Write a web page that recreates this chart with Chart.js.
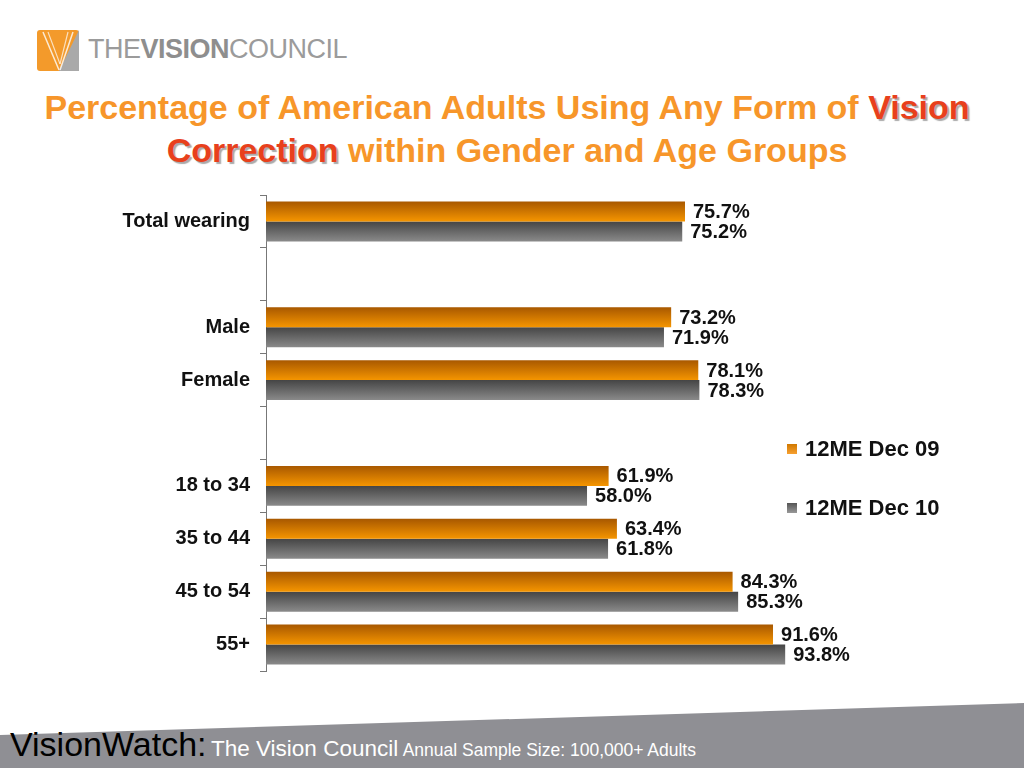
<!DOCTYPE html>
<html>
<head>
<meta charset="utf-8">
<script src="https://cdn.jsdelivr.net/npm/chart.js@4.4.0/dist/chart.umd.min.js"></script>
<style>
  body { margin: 0; width: 1024px; height: 768px; overflow: hidden; background: #fff; font-family: "Liberation Sans", Arial, sans-serif; position: relative; }
  #logo { position: absolute; left: 37px; top: 30px; width: 310px; height: 44px; }
  #logoText { position: absolute; left: 51px; top: 4px; font-size: 27px; color: #9b9b9b; letter-spacing: -0.5px; white-space: nowrap; }
  #logoText b { font-weight: bold; color: #8e8e8e; }
  #title { position: absolute; left: 0; top: 86px; width: 1014px; text-align: center; font-size: 34px; font-weight: bold; line-height: 43px; color: #f7962a; }
  #title span { color: #e8401c; text-shadow: 2px 2px 1px #aaa; }
  #wrap { position: absolute; left: 0; top: 170px; width: 1024px; height: 526px; }
  .leg { position: absolute; left: 787px; font-size: 22px; font-weight: bold; color: #111; white-space: nowrap; }
  .leg i { display: inline-block; width: 10px; height: 10px; margin-right: 8px; vertical-align: 2px; }
  #footer { position: absolute; left: 0; top: 700px; width: 1024px; height: 68px; }
  #footText { position: absolute; left: 10px; top: 725px; white-space: nowrap; color: #fff; }
</style>
</head>
<body>

<div id="logo">
  <svg width="44" height="42" style="position:absolute;left:0;top:0">
    <rect x="0" y="0" width="42" height="41" rx="3" fill="#f39a2b"/>
    <polygon points="22,41 42,0 42,41" fill="#a9a9a9"/>
    <line x1="6" y1="2" x2="22" y2="40" stroke="#fff" stroke-width="1.5" opacity="0.8"/>
    <line x1="11" y1="2" x2="23" y2="34" stroke="#fff" stroke-width="1.2" opacity="0.7"/>
    <line x1="31" y1="2" x2="23" y2="34" stroke="#fff" stroke-width="1.2" opacity="0.7"/>
    <line x1="36" y1="2" x2="23" y2="40" stroke="#fff" stroke-width="1.5" opacity="0.8"/>
  </svg>
  <div id="logoText">THE<b>VISION</b>COUNCIL</div>
</div>

<div id="title">Percentage of American Adults Using Any Form of <span>Vision</span><br><span>Correction</span> within Gender and Age Groups</div>

<div id="wrap"><canvas id="myChart" width="1024" height="526"></canvas></div>

<div class="leg" style="top:436px"><i style="background:linear-gradient(#d07800,#f7a030)"></i>12ME Dec 09</div>
<div class="leg" style="top:495px"><i style="background:linear-gradient(#555,#999)"></i>12ME Dec 10</div>

<svg id="footer" width="1024" height="68"><polygon points="0,35 1024,3 1024,68 0,68" fill="#8f8f94"/></svg>
<div id="footText"><span style="font-size:34px;color:#000">VisionWatch:</span> <span style="font-size:22.5px">The Vision Council</span> <span style="font-size:17.5px">Annual Sample Size: 100,000+ Adults</span></div>

<script>
// categories (blank ones are the gaps between groups)
var labels = ['Total wearing', '', 'Male', 'Female', '', '18 to 34', '35 to 44', '45 to 54', '55+'];
var dec09 = [75.7, null, 73.2, 78.1, null, 61.9, 63.4, 84.3, 91.6];
var dec10 = [75.2, null, 71.9, 78.3, null, 58.0, 61.8, 85.3, 93.8];
var seriesNames = ['12ME Dec 09', '12ME Dec 10'];

const catPct = 0.755;

function barGradient(ctx, top, bottom) {
    return function (c) {
        const chart = c.chart;
        const ys = chart.scales.y;
        if (!ys || ys.top === undefined) return bottom;
        const center = ys.getPixelForValue(c.dataIndex);
        const step = (ys.bottom - ys.top) / labels.length;
        const h = step * catPct / 2;
        const y0 = c.datasetIndex === 0 ? center - h : center;
        const g = chart.ctx.createLinearGradient(0, y0, 0, y0 + h);
        g.addColorStop(0, top);
        g.addColorStop(1, bottom);
        return g;
    };
}

const valueLabels = {
    id: 'valueLabels',
    afterDatasetsDraw: function (chart) {
        const ctx = chart.ctx;
        ctx.save();
        ctx.font = 'bold 20px "Liberation Sans", Arial, sans-serif';
        ctx.fillStyle = '#111';
        ctx.textBaseline = 'middle';
        ctx.textAlign = 'left';
        chart.data.datasets.forEach(function (ds, i) {
            const meta = chart.getDatasetMeta(i);
            meta.data.forEach(function (el, j) {
                const v = ds.data[j];
                if (v === null) return;
                ctx.fillText(v.toFixed(1) + '%', el.x + 8, el.y + 1);
            });
        });
        ctx.restore();
    }
};

const ctx = document.getElementById('myChart').getContext('2d');
const myChart = new Chart(ctx, {
    type: 'bar',
    data: {
        labels: labels,
        datasets: [{
            label: seriesNames[0],
            data: dec09,
            backgroundColor: barGradient(ctx, '#a85800', '#f59500'),
            categoryPercentage: catPct,
            barPercentage: 1
        }, {
            label: seriesNames[1],
            data: dec10,
            backgroundColor: barGradient(ctx, '#454545', '#8a8a8a'),
            categoryPercentage: catPct,
            barPercentage: 1
        }]
    },
    options: {
        indexAxis: 'y',
        responsive: false,
        animation: false,
        layout: { padding: { top: 25, bottom: 25, left: 0, right: 204.5 } },
        plugins: {
            legend: { display: false },
            tooltip: { enabled: false }
        },
        scales: {
            x: { display: false, min: 0, max: 100 },
            y: {
                afterFit: function (s) { s.width = 266; },
                border: { display: true, color: '#777', width: 1 },
                grid: { drawOnChartArea: false, tickLength: 6, color: '#777', offset: true },
                ticks: {
                    color: '#111',
                    padding: 10,
                    font: { family: '"Liberation Sans", Arial, sans-serif', size: 20, weight: 'bold' }
                }
            }
        }
    },
    plugins: [valueLabels]
});
</script>
</body>
</html>
